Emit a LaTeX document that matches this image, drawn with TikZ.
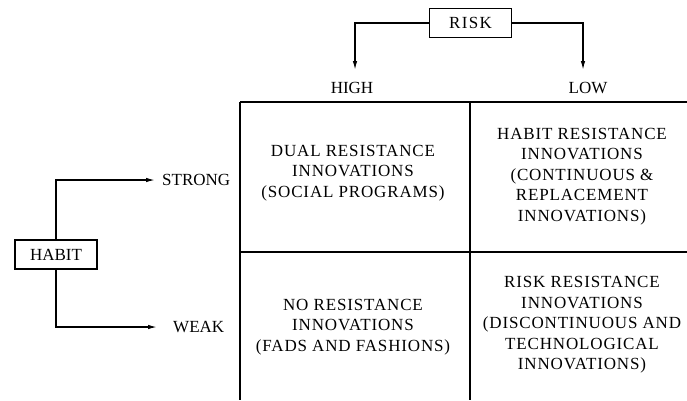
\documentclass[tikz,border=0pt]{standalone}
\usepackage{fontspec}
\setmainfont{Liberation Serif}
\usetikzlibrary{arrows.meta}
\begin{document}
\begin{tikzpicture}[x=1pt,y=-1pt,
  txt/.style={inner sep=0pt,align=center,font=\fontsize{17}{20.5}\selectfont},
  cell/.style={txt,font=\fontsize{17}{20.5}\selectfont\addfontfeature{LetterSpace=5}},
  boxed/.style={draw,line width=1.1pt,minimum width=82pt,minimum height=29pt,inner sep=0pt,font=\fontsize{17}{20.5}\selectfont},
  arr/.style={line width=1.3pt,-{Latex[length=9pt,width=4.5pt]}},
  grid/.style={line width=1.1pt}]
\useasboundingbox (0,0) rectangle (687,400);
% risk
\node[boxed,font=\fontsize{17}{20.5}\selectfont\addfontfeature{LetterSpace=8}] (risk) at (470.5,23) {RISK};
\node[txt] (high) at (352,88) {HIGH};
\node[txt] (low) at (588,88) {LOW};
\coordinate (hightip) at (355,70);
\coordinate (lowtip) at (583,70);
\draw[arr] (risk.west) -| (hightip);
\draw[arr] (risk.east) -| (lowtip);
% habit
\node[boxed] (habit) at (56,254.5) {HABIT};
\node[txt,anchor=west] (strong) at (162,180) {STRONG};
\node[txt,anchor=west] (weak) at (173,327) {WEAK};
\draw[arr] (habit.north) |- ([xshift=-7pt]strong.west);
\draw[arr] (habit.south) |- ([xshift=-16pt]weak.west);
% grid
\coordinate (tl) at (240,102);
\coordinate (tm) at (470,102);
\coordinate (tr) at (687,102);
\draw[grid] (tl) -- (tr);
\draw[grid] (tl) -- (240,400);
\draw[grid] (tm) -- (470,400);
\draw[grid] (240,252) -- (687,252);
% cells
\node[cell] (c11) at (353,173) {DUAL RESISTANCE\\INNOVATIONS\\(SOCIAL PROGRAMS)};
\node[cell] (c12) at (582,176.5) {HABIT RESISTANCE\\INNOVATIONS\\(CONTINUOUS \&\\REPLACEMENT\\INNOVATIONS)};
\node[cell] (c21) at (353,327) {NO RESISTANCE\\INNOVATIONS\\(FADS AND FASHIONS)};
\node[cell] (c22) at (582,325) {RISK RESISTANCE\\INNOVATIONS\\(DISCONTINUOUS AND\\TECHNOLOGICAL\\INNOVATIONS)};
\end{tikzpicture}
\end{document}
